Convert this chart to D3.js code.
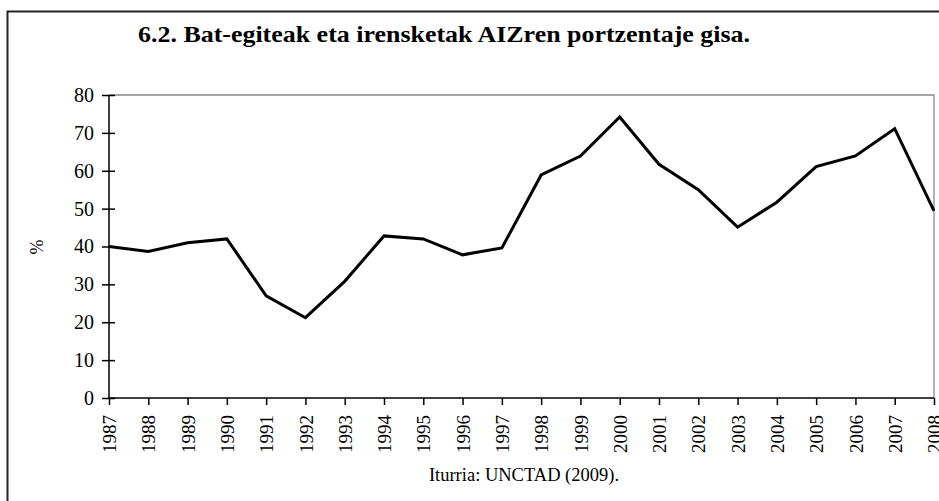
<!DOCTYPE html>
<html>
<head>
<meta charset="utf-8">
<script src="https://cdn.jsdelivr.net/npm/d3@7"></script>
<style>
  body { margin: 0; background: #fff; }
  svg { display: block; font-family: "Liberation Serif", "Times New Roman", serif; }
</style>
</head>
<body>
<div id="chart"></div>
<script>
// data
const years = [1987, 1988, 1989, 1990, 1991, 1992, 1993, 1994, 1995, 1996, 1997,
  1998, 1999, 2000, 2001, 2002, 2003, 2004, 2005, 2006, 2007, 2008];
const shares = [40, 38.7, 41, 42, 27, 21.2, 30.8, 42.8, 42, 37.8, 39.6,
  58.9, 63.9, 74.2, 61.7, 55, 45.1, 51.7, 61.1, 63.9, 71.1, 49.4];
const yTicks = [0, 10, 20, 30, 40, 50, 60, 70, 80];

const width = 939, height = 501;
const plotLeft = 109, plotRight = 934, plotTop = 95, plotBottom = 398;

const svg = d3.select("#chart").append("svg")
  .attr("width", width)
  .attr("height", height);

// outer frame (only left and top edges are visible in the picture)
svg.append("path")
  .attr("d", `M7.5,${height} V11.5 H${width}`)
  .attr("fill", "none")
  .attr("stroke", "#222")
  .attr("stroke-width", 2);

// title
svg.append("text")
  .attr("x", 138)
  .attr("y", 42)
  .attr("font-weight", "bold")
  .attr("font-size", 24)
  .attr("textLength", 612)
  .attr("lengthAdjust", "spacingAndGlyphs")
  .text("6.2. Bat-egiteak eta irensketak AIZren portzentaje gisa.");

const x = d3.scalePoint().domain(years).range([plotLeft, plotRight]);
const y = d3.scaleLinear().domain([0, 80]).range([plotBottom, plotTop]);

// plot area border (grey top and right)
svg.append("path")
  .attr("d", `M${plotLeft},${plotTop} H${plotRight} V${plotBottom}`)
  .attr("fill", "none")
  .attr("stroke", "#888")
  .attr("stroke-width", 1.3);

// y axis, ticks crossing the line
const yAxis = svg.append("g")
  .attr("transform", `translate(${plotLeft},0)`)
  .call(d3.axisLeft(y).tickValues(yTicks).tickSize(6).tickPadding(8));
yAxis.selectAll(".tick line").attr("x2", 6).attr("x1", -7);
yAxis.select(".domain").attr("d", `M0,${plotBottom}V${plotTop}`);
yAxis.selectAll("line, path").attr("stroke", "#000").attr("stroke-width", 1.5);
yAxis.selectAll("text")
  .attr("font-size", 20)
  .attr("font-family", "Liberation Serif, Times New Roman, serif")
  .attr("fill", "#000")
  .attr("x", -15);

// x axis with rotated year labels
const xAxis = svg.append("g")
  .attr("transform", `translate(0,${plotBottom})`)
  .call(d3.axisBottom(x).tickSize(7).tickSizeOuter(0));
xAxis.select(".domain").attr("d", `M${plotLeft},0H${plotRight}`);
xAxis.selectAll("line, path").attr("stroke", "#000").attr("stroke-width", 1.5);
xAxis.selectAll("text")
  .attr("font-size", 19)
  .attr("font-family", "Liberation Serif, Times New Roman, serif")
  .attr("fill", "#000")
  .attr("text-anchor", "end")
  .attr("dy", "0.35em")
  .attr("transform", "rotate(-90)")
  .attr("x", -17)
  .attr("y", 0);

// series line
const line = d3.line()
  .x((d, i) => x(years[i]))
  .y(d => y(d));

svg.append("path")
  .datum(shares)
  .attr("d", line)
  .attr("fill", "none")
  .attr("stroke", "#000")
  .attr("stroke-width", 3)
  .attr("stroke-linejoin", "miter");

// axis title
svg.append("text")
  .attr("transform", "translate(43,247) rotate(-90)")
  .attr("text-anchor", "middle")
  .attr("font-size", 18)
  .text("%");

// source
svg.append("text")
  .attr("x", 524)
  .attr("y", 481)
  .attr("text-anchor", "middle")
  .attr("font-size", 18.5)
  .text("Iturria: UNCTAD (2009).");
</script>
</body>
</html>
